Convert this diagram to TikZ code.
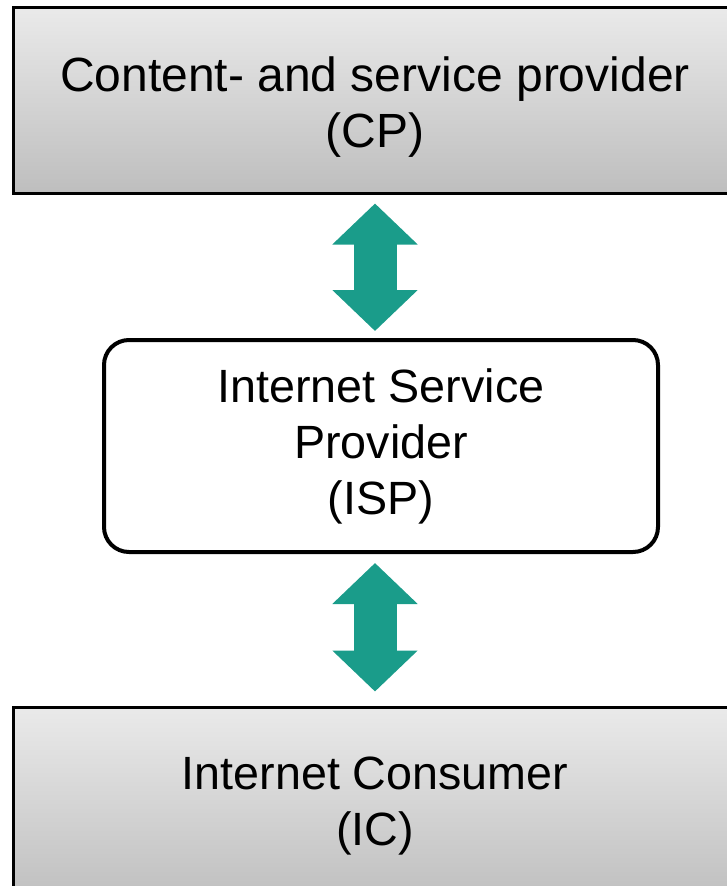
\documentclass[tikz,border=0pt]{standalone}
\usepackage{fontspec}
\setmainfont{Liberation Sans}
\usetikzlibrary{arrows.meta}

\definecolor{arrowteal}{RGB}{26,156,138}
\definecolor{boxtop}{RGB}{234,234,234}
\definecolor{boxbottom}{RGB}{190,190,190}

\tikzset{
  greybox/.style={draw=black, line width=2.25pt, top color=boxtop, bottom color=boxbottom,
    inner sep=0pt},
  ispbox/.style={draw=black, line width=3pt, fill=white, rounded corners=18.75pt,
    inner sep=0pt, align=center, font=\fontsize{35}{42}\selectfont},
  boxtext/.style={inner sep=0pt, align=center, font=\fontsize{35}{42}\selectfont},
  dblarrow/.style={draw=arrowteal, line width=32.25pt,
    {Triangle[length=30.75pt,width=62.25pt]}-{Triangle[length=30.75pt,width=62.25pt]}}
}

\begin{document}
\begin{tikzpicture}[x=0.75pt,y=-0.75pt]
\useasboundingbox (0,0) rectangle (727,886);
\clip (0,0) rectangle (727,886);

\node[greybox, minimum width=543pt, minimum height=139.5pt] (cp) at (375,100) {};
\node[boxtext, font=\fontsize{36}{42}\selectfont] (cptext) at (375,107)
  {Content- and service provider\\(CP)};
\node[ispbox, minimum width=415.5pt, minimum height=159pt] (isp) at (381,446)
  {Internet Service\\Provider\\(ISP)};
\node[greybox, minimum width=543pt, minimum height=148.5pt] (ic) at (375,806) {};
\node[boxtext] (ictext) at (375,806) {Internet Consumer\\(IC)};

%-------------------------------------
\draw[dblarrow, shorten <=6.75pt, shorten >=5.25pt] (cp.south) -- (cp.south |- isp.north);
\draw[dblarrow, shorten <=6.75pt, shorten >=10.5pt] (cp.south |- isp.south) -- (ic.north);

\end{tikzpicture}
\end{document}
